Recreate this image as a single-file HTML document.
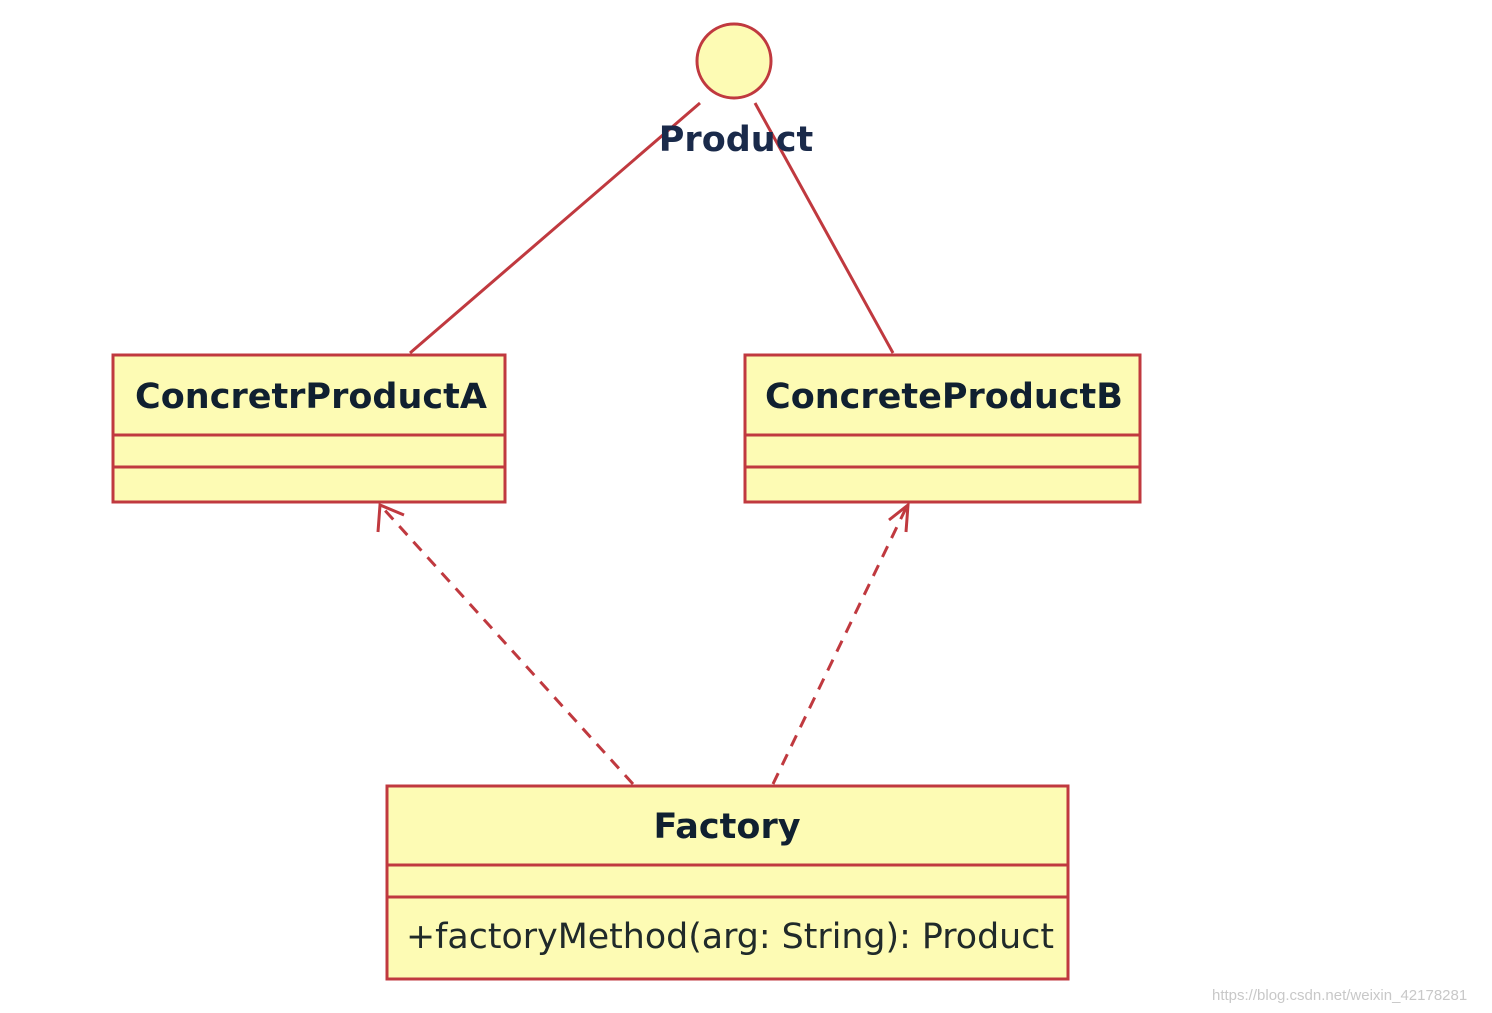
<!DOCTYPE html>
<html><head><style>body{margin:0;background:#fff}svg{display:block}</style></head><body>
<svg width="1492" height="1013" viewBox="0 0 1492 1013" xmlns="http://www.w3.org/2000/svg" font-family="'DejaVu Sans','Liberation Sans',sans-serif">
<g stroke="#c0393f" stroke-width="3" fill="#fdfbb4">
<circle cx="734" cy="61" r="37"/>
<rect x="113" y="355" width="392" height="147"/>
<line x1="113" y1="435" x2="505" y2="435"/><line x1="113" y1="467" x2="505" y2="467"/>
<rect x="745" y="355" width="395" height="147"/>
<line x1="745" y1="435" x2="1140" y2="435"/><line x1="745" y1="467" x2="1140" y2="467"/>
<rect x="387" y="786" width="681" height="193"/>
<line x1="387" y1="865" x2="1068" y2="865"/><line x1="387" y1="897" x2="1068" y2="897"/>
</g>
<g stroke="#c0393f" stroke-width="3" fill="none">
<line x1="700" y1="103" x2="410" y2="353"/>
<line x1="755" y1="103" x2="893" y2="353"/>
<line x1="633" y1="784" x2="381" y2="506" stroke-dasharray="12,9"/>
<line x1="773" y1="784" x2="907" y2="506" stroke-dasharray="12,9"/>
<polyline points="378,532 380,505 404,515"/>
<polyline points="889,520 908,505 906,532"/>
</g>
<g fill="#102030" font-weight="bold" font-size="35" text-anchor="middle">
<text x="736" y="151" fill="#1a2a4a">Product</text>
<text x="311" y="408">ConcretrProductA</text>
<text x="944" y="408">ConcreteProductB</text>
<text x="727" y="838">Factory</text>
</g>
<text x="730" y="948" text-anchor="middle" font-size="35" fill="#202a2a" textLength="648" lengthAdjust="spacingAndGlyphs">+factoryMethod(arg: String): Product</text>
<text x="1212" y="1000" font-size="15" fill="#c8c8c8" font-family="'Liberation Sans',sans-serif">https://blog.csdn.net/weixin_42178281</text>
</svg>
</body></html>
